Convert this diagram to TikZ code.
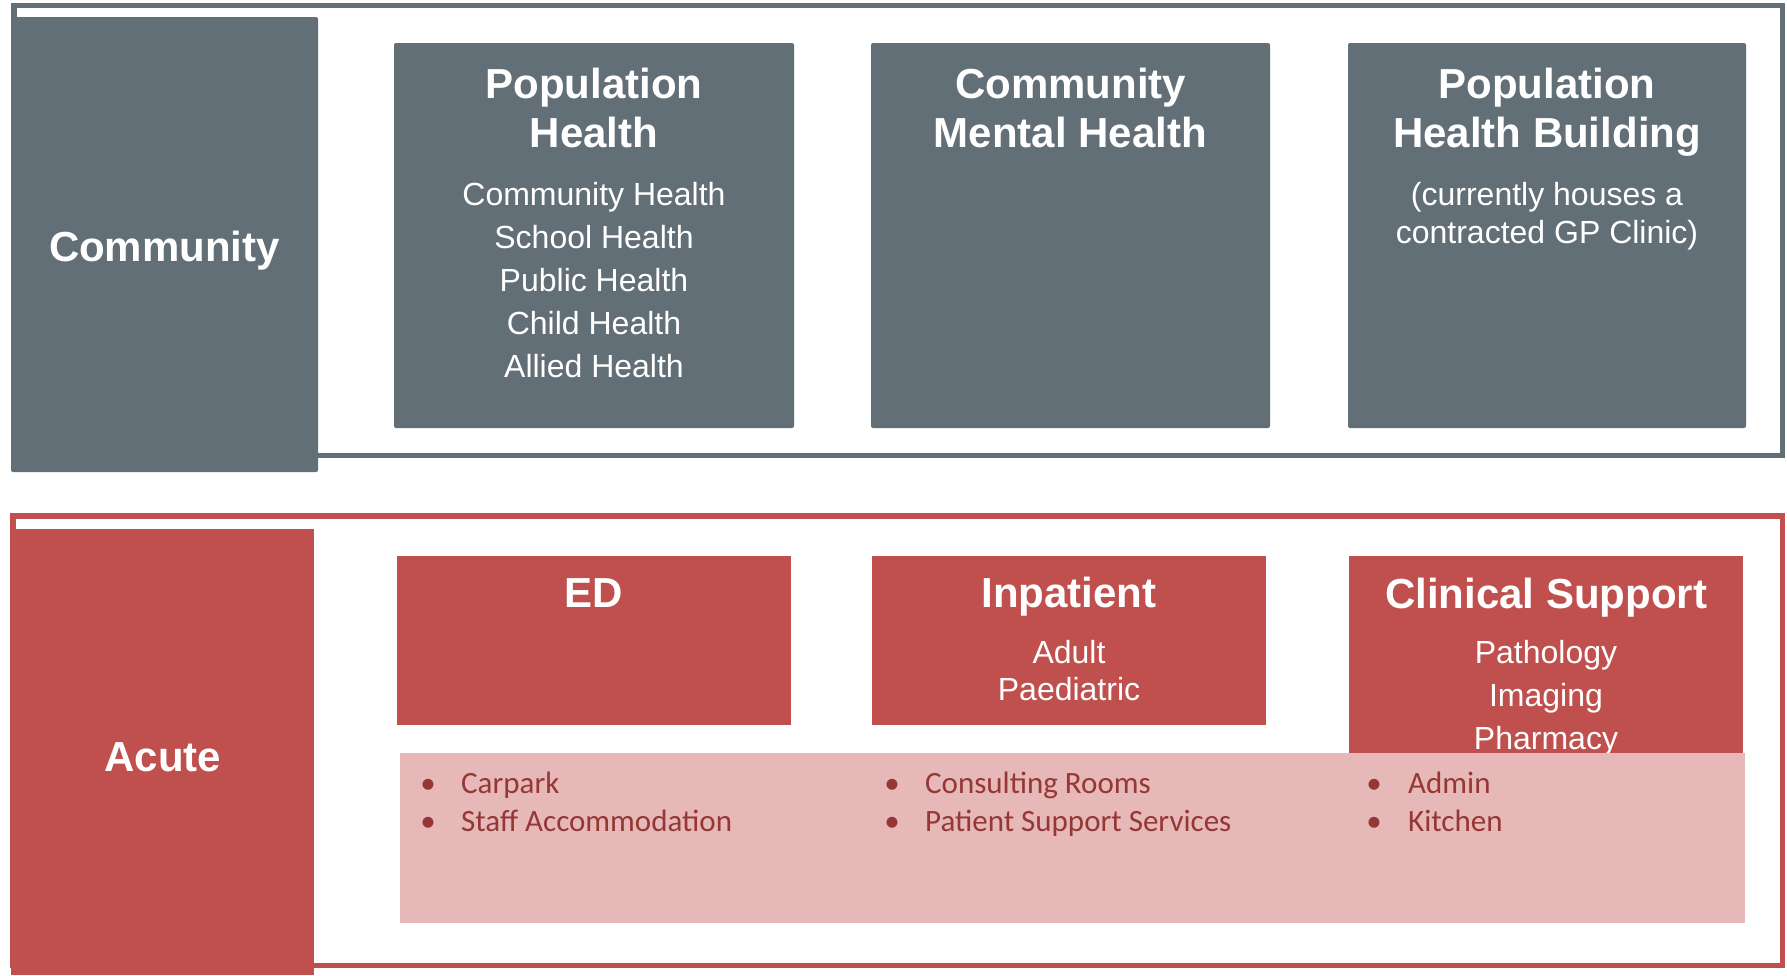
\documentclass[tikz,border=0pt]{standalone}
\usepackage{fontspec}
\setmainfont{Liberation Sans}
\newfontfamily\calfont{Carlito}
\definecolor{slate}{RGB}{99,111,119}
\definecolor{brick}{RGB}{192,80,77}
\definecolor{blush}{RGB}{230,185,184}
\definecolor{maroon}{RGB}{149,55,53}
\tikzset{
  head/.style={anchor=base, text=white, font=\fontsize{42}{48}\selectfont\bfseries, inner sep=0pt},
  body/.style={anchor=base, text=white, font=\fontsize{32}{38}\selectfont, inner sep=0pt},
  bul/.style={anchor=base west, text=maroon, font=\calfont\fontsize{31}{37}\selectfont, inner sep=0pt},
  dot/.style={anchor=base, text=maroon, font=\calfont\fontsize{31}{37}\selectfont, inner sep=0pt},
  greybox/.style={fill=slate, rounded corners=2pt},
  redbox/.style={fill=brick},
  greyframe/.style={draw=slate, line width=5.5pt},
  redframe/.style={draw=brick, line width=5.5pt},
}
\begin{document}
\begin{tikzpicture}[x=1pt,y=-1pt]
\useasboundingbox (0,0) rectangle (1787,975);
\fill[white] (0,0) rectangle (1787,975);

% ---------------- Community ----------------
\draw[greyframe] (14,5.5) rectangle (1782.5,455.5);
\fill[greybox] (11,17) rectangle (318,472);
\node[head] (community) at (164.5,261) {Community};

\fill[greybox] (394,43) rectangle (794,428);
\node[head] (ph1) at (594,98) {Population};
\node[head] (ph2) at (594,147) {Health};
\node[body] (ph3) at (594,205) {Community Health};
\node[body] (ph4) at (594,248) {School Health};
\node[body] (ph5) at (594,291) {Public Health};
\node[body] (ph6) at (594,334) {Child Health};
\node[body] (ph7) at (594,377) {Allied Health};

\fill[greybox] (871,43) rectangle (1270,428);
\node[head] (cmh1) at (1070.5,98) {Community};
\node[head] (cmh2) at (1070.5,147) {Mental Health};

\fill[greybox] (1348,43) rectangle (1746,428);
\node[head] (phb1) at (1547,98) {Population};
\node[head] (phb2) at (1547,147) {Health Building};
\node[body] (phb3) at (1547,205) {(currently houses a};
\node[body] (phb4) at (1547,243) {contracted GP Clinic)};

% ---------------- Acute ----------------
\draw[redframe] (13,516) rectangle (1782.5,965.5);
\fill[redbox] (11,529) rectangle (314,975);
\node[head] (acute) at (163,771) {Acute};

\fill[redbox] (397,556) rectangle (791,725);
\node[head] (ed) at (594,607) {ED};

\fill[redbox] (872,556) rectangle (1266,725);
\node[head] (inp1) at (1069,607) {Inpatient};
\node[body] (inp2) at (1069,663) {Adult};
\node[body] (inp3) at (1069,700) {Paediatric};

\fill[redbox] (1349,556) rectangle (1743,753);
\node[head] (cs1) at (1546,608) {Clinical Support};
\node[body] (cs2) at (1546,663) {Pathology};
\node[body] (cs3) at (1546,706) {Imaging};
\node[body] (cs4) at (1546,749) {Pharmacy};

\fill[blush] (400,753) rectangle (1745,923);
\node[dot] (d1) at (428,793) {•};
\node[bul] (b1) at (461,793) {Carpark};
\node[dot] (d2) at (428,831) {•};
\node[bul] (b2) at (461,831) {Staff Accommodation};
\node[dot] (d3) at (892,793) {•};
\node[bul] (b3) at (925,793) {Consulting Rooms};
\node[dot] (d4) at (892,831) {•};
\node[bul] (b4) at (925,831) {Patient Support Services};
\node[dot] (d5) at (1374,793) {•};
\node[bul] (b5) at (1408,793) {Admin};
\node[dot] (d6) at (1374,831) {•};
\node[bul] (b6) at (1408,831) {Kitchen};
\end{tikzpicture}
\end{document}
